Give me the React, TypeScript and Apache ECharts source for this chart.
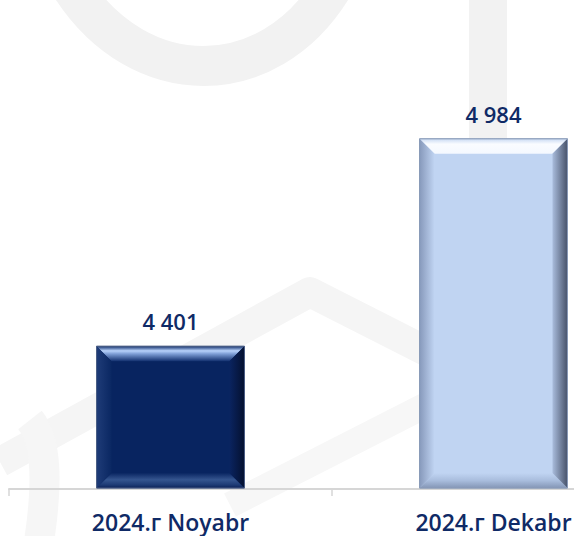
import React, { useEffect, useRef } from "react";
import * as echarts from "echarts";

const categories = ["2024.г Noyabr", "2024.г Dekabr"];
const values = [4401, 4984];
const valueLabels = ["4 401", "4 984"];

const TEXT_COLOR = "#0f2a66";

type Palette = {
  main: string;
  border: string;
  top: [number, string][];
  bottom: [number, string][];
  left: [number, string][];
  right: [number, string][];
};

const palettes: Palette[] = [
  {
    main: "#082460",
    border: "#4c5f86",
    top: [
      [0, "#16336f"],
      [0.3, "#b8d2fb"],
      [0.5, "#7f9fd6"],
      [1, "#112f6e"],
    ],
    bottom: [
      [0, "#0a2662"],
      [0.45, "#35558f"],
      [0.8, "#1d3a74"],
      [1, "#0c2157"],
    ],
    left: [
      [0, "#1f3c78"],
      [1, "#0a2762"],
    ],
    right: [
      [0, "#0a2460"],
      [1, "#04102f"],
    ],
  },
  {
    main: "#c0d4f2",
    border: "#8a9bb8",
    top: [
      [0, "#c9daf3"],
      [0.35, "#fafcff"],
      [1, "#f4f8ff"],
    ],
    bottom: [
      [0, "#c0d4f2"],
      [0.5, "#a9bddd"],
      [1, "#8496b6"],
    ],
    left: [
      [0, "#8799bb"],
      [1, "#c0d4f2"],
    ],
    right: [
      [0, "#a9bcdc"],
      [1, "#47526a"],
    ],
  },
];

function grad(x: number, y: number, x2: number, y2: number, stops: [number, string][]) {
  return new echarts.graphic.LinearGradient(
    x,
    y,
    x2,
    y2,
    stops.map(([offset, color]) => ({ offset, color }))
  );
}

export default function App() {
  const ref = useRef<HTMLDivElement>(null);

  useEffect(() => {
    if (!ref.current) return;
    const chart = echarts.init(ref.current, undefined, { renderer: "svg" });

    chart.setOption({
      animation: false,
      backgroundColor: "#ffffff",
      graphic: [
        {
          type: "bezierCurve",
          z: -10,
          silent: true,
          shape: { x1: 72, y1: -12, cpx1: 140, cpy1: 92, cpx2: 268, cpy2: 92, x2: 332, y2: -12 },
          style: { stroke: "#f2f2f2", lineWidth: 40, fill: "none" },
        },
        {
          type: "line",
          z: -10,
          silent: true,
          shape: { x1: 488, y1: -5, x2: 488, y2: 160 },
          style: { stroke: "#f2f2f2", lineWidth: 38 },
        },
        {
          type: "polyline",
          z: -10,
          silent: true,
          shape: { points: [[0, 462], [310, 292], [440, 358]] },
          style: { stroke: "#f5f5f5", lineWidth: 30, lineJoin: "round", fill: "none" },
        },
        {
          type: "polyline",
          z: -10,
          silent: true,
          shape: { points: [[230, 505], [440, 398]] },
          style: { stroke: "#f7f7f7", lineWidth: 26 },
        },
        {
          type: "bezierCurve",
          z: -10,
          silent: true,
          shape: { x1: 36, y1: 560, cpx1: 50, cpy1: 480, cpx2: 46, cpy2: 440, x2: 30, y2: 420 },
          style: { stroke: "#f6f6f6", lineWidth: 30, fill: "none" },
        },
      ],
      grid: {
        left: 9,
        width: 646,
        top: 62,
        bottom: 47,
        containLabel: false,
        outerBoundsMode: "none",
      },
      xAxis: {
        type: "category",
        data: categories,
        boundaryGap: true,
        axisLine: { show: true, lineStyle: { color: "#d6d6d6", width: 2 } },
        axisTick: { show: true, length: 7, lineStyle: { color: "#d6d6d6", width: 1.5 } },
        axisLabel: {
          color: TEXT_COLOR,
          fontFamily: "Open Sans",
          fontWeight: 600,
          fontSize: 23,
          margin: 21,
        },
      },
      yAxis: {
        type: "value",
        min: 4000,
        max: 5200,
        show: false,
        splitLine: { show: false },
      },
      series: [
        {
          type: "custom",
          data: values.map((v, i) => [i, v]),
          encode: { x: 0, y: 1 },
          renderItem: (params: any, api: any) => {
            const idx = api.value(0);
            const val = api.value(1);
            const topPt = api.coord([idx, val]);
            const basePt = api.coord([idx, 4000]);
            const band = api.size([1, 0])[0];
            const w = band * 0.458;
            const x0 = topPt[0] - w / 2;
            const x1 = topPt[0] + w / 2;
            const y0 = topPt[1];
            const y1 = basePt[1] - 1;
            const b = 15;
            const p = palettes[params.dataIndex];
            return {
              type: "group",
              children: [
                {
                  type: "rect",
                  shape: { x: x0, y: y0, width: x1 - x0, height: y1 - y0 },
                  style: { fill: p.main, stroke: p.border, lineWidth: 1 },
                },
                {
                  type: "polygon",
                  shape: { points: [[x0, y0], [x1, y0], [x1 - b, y0 + b], [x0 + b, y0 + b]] },
                  style: { fill: grad(0, 0, 0, 1, p.top) },
                },
                {
                  type: "polygon",
                  shape: { points: [[x0 + b, y1 - b], [x1 - b, y1 - b], [x1, y1], [x0, y1]] },
                  style: { fill: grad(0, 0, 0, 1, p.bottom) },
                },
                {
                  type: "polygon",
                  shape: { points: [[x0, y0], [x0 + b, y0 + b], [x0 + b, y1 - b], [x0, y1]] },
                  style: { fill: grad(0, 0, 1, 0, p.left) },
                },
                {
                  type: "polygon",
                  shape: { points: [[x1 - b, y0 + b], [x1, y0], [x1, y1], [x1 - b, y1 - b]] },
                  style: { fill: grad(0, 0, 1, 0, p.right) },
                },
                {
                  type: "rect",
                  shape: { x: x0, y: y0, width: x1 - x0, height: y1 - y0 },
                  style: { fill: "none", stroke: p.border, lineWidth: 1 },
                },
                {
                  type: "text",
                  style: {
                    text: valueLabels[params.dataIndex],
                    x: topPt[0],
                    y: y0 - 25,
                    align: "center",
                    verticalAlign: "middle",
                    fill: TEXT_COLOR,
                    font: "600 22px 'Open Sans'",
                  },
                },
              ],
            };
          },
        },
      ],
    });

    return () => chart.dispose();
  }, []);

  return (
    <div
      ref={ref}
      style={{ position: "fixed", left: 0, top: 0, width: 574, height: 536 }}
    />
  );
}
